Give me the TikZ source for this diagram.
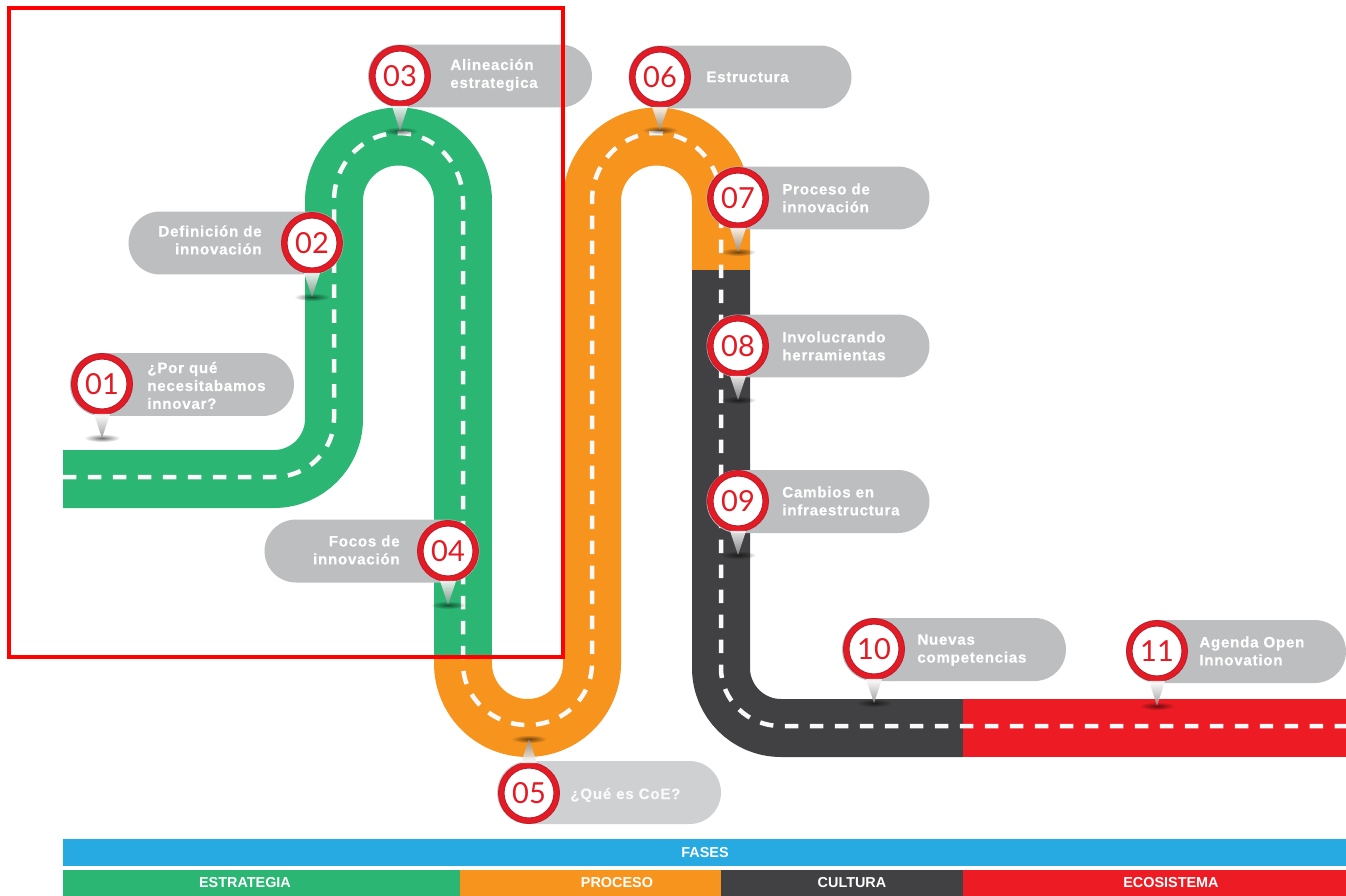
\documentclass[tikz,border=0pt]{standalone}
\usepackage{xcolor}
\usepackage{fontspec}
\setmainfont{Liberation Sans}
\newfontfamily\etiqfont[LetterSpace=5, BoldFeatures={FakeBold=0.5}]{Liberation Sans}
\newfontfamily\numfont{Lato}
\usetikzlibrary{
  arrows.meta,
  positioning,
  fadings,
  calc
}
\definecolor{RoadGreen}{RGB}{43,182,115}
\definecolor{RoadOrange}{RGB}{247,148,30}
\definecolor{RoadDark}{RGB}{65,64,66}
\definecolor{RoadRed}{RGB}{237,28,36}
\definecolor{BarBlue}{RGB}{39,170,225}
\definecolor{PillGray}{RGB}{188,190,192}
\definecolor{PillSoft}{RGB}{207,208,210}
\definecolor{RingRed}{RGB}{226,27,36}
\definecolor{RingDark}{RGB}{190,30,45}
\definecolor{FrameRed}{RGB}{255,0,0}
\tikzfading[name=pinshadow, inner color=transparent!45, outer color=transparent!100]
\pgfdeclareradialshading{hitoshade}{\pgfpoint{0bp}{0bp}}{color(0bp)=(white); color(34bp)=(white); color(50bp)=(black!22)}
\tikzset{
  %%── carretera ─────────────────────────────────────────────
  road/.style = {line width = 1.16cm},
  lane/.style = {line width = 0.09cm, color = white!95!gray, dash pattern = on 0.27cm off 0.23cm},
  %%── etiquetas ─────────────────────────────────────────────
  pill/.style = {
    rectangle, rounded corners = 0.63cm, fill = PillGray,
    minimum height = 1.26cm, inner sep = 0pt, outer sep = 0pt
  },
  pilltxt/.style = {
    inner sep = 0pt, text = white, align = left, anchor = west,
    font = \etiqfont\bfseries\fontsize{8.6}{10.2}\selectfont
  },
  pilltxtr/.style = {pilltxt, align = right, anchor = east},
  %%── hitos ─────────────────────────────────────────────────
  hito/.style = {
    circle, minimum size = 1.11cm, inner sep = 0pt, outer sep = 0.065cm,
    draw = RingDark, double = RingRed, line width = 0.02cm, double distance = 0.09cm,
    shading = hitoshade,
    text = RingRed, font = \numfont\fontsize{16.5}{16.5}\selectfont
  },
  pinta/.style = {top color = white, bottom color = black!45, fill opacity = 0.85},
  pinsh/.style = {fill = black, path fading = pinshadow},
  %%── barra de fases ────────────────────────────────────────
  fase/.style = {text = white, inner sep = 0pt, font = \bfseries\fontsize{8.2}{9}\selectfont},
}
\newcommand{\pindown}[2]{%
  \fill[pinsh] (#2) ellipse (18 and 4);
  \shade[pinta] (#1.255) -- (#2) -- (#1.285) -- cycle;
}
\begin{document}
\begin{tikzpicture}[x=0.02cm, y=-0.02cm]
  \useasboundingbox (0,0) rectangle (1346,896);
  \fill[white] (0,0) rectangle (1346,896);

  %% carretera
  \draw[road, color=RoadGreen] (63,479) -- (274,479)
    arc[start angle=90, end angle=0, radius=60] -- (334,201)
    arc[start angle=180, end angle=360, radius=64.5] -- (463,655);
  \draw[road, color=RoadOrange] (463,655) -- (463,663.5)
    arc[start angle=180, end angle=0, radius=64.5] -- (592,201)
    arc[start angle=180, end angle=360, radius=64.5] -- (721,270);
  \draw[road, color=RoadDark] (721,270) -- (721,668)
    arc[start angle=180, end angle=90, radius=60] -- (963,728);
  \draw[road, color=RoadRed] (963,728) -- (1346,728);
  \draw[lane] (63,477) -- (274,477)
    arc[start angle=90, end angle=0, x radius=60, y radius=58] -- (334,201)
    arc[start angle=180, end angle=360, x radius=64.5, y radius=68] -- (463,663.5)
    arc[start angle=180, end angle=0, x radius=64.5, y radius=61.5] -- (592,201)
    arc[start angle=180, end angle=360, x radius=64.5, y radius=68] -- (721,668)
    arc[start angle=180, end angle=90, x radius=60, y radius=58] -- (1346,726);

  %% etiquetas
  \node[pill, minimum width=4.48cm] (l1) at (182,384.5) {};
  \node[pill, minimum width=4.3cm] (l2) at (236,243) {};
  \node[pill, minimum width=4.48cm] (l3) at (480,76) {};
  \node[pill, minimum width=4.3cm] (l4) at (372,551) {};
  \node[pill, fill=PillSoft, minimum width=4.48cm] (l5) at (609,792.5) {};
  \node[pill, minimum width=4.46cm] (l6) at (740,77) {};
  \node[pill, minimum width=4.46cm] (l7) at (818,198) {};
  \node[pill, minimum width=4.46cm] (l8) at (818,346) {};
  \node[pill, minimum width=4.46cm] (l9) at (818,501.5) {};
  \node[pill, minimum width=4.48cm] (l10) at (954,649.5) {};
  \node[pill, minimum width=4.4cm] (l11) at (1236,651.5) {};

  \node[pilltxt] (t1) at (147,385.5) {¿Por qué\\necesitabamos\\innovar?};
  \node[pilltxtr] (t2) at (262,240) {Definición de\\innovación};
  \node[pilltxt] (t3) at (450,75) {Alineación\\estrategica};
  \node[pilltxtr] (t4) at (400,550) {Focos de\\innovación};
  \node[pilltxt, text=white!90!PillSoft] (t5) at (570,795) {¿Qué es CoE?};
  \node[pilltxt] (t6) at (706,77) {Estructura};
  \node[pilltxt] (t7) at (782,198) {Proceso de\\innovación};
  \node[pilltxt] (t8) at (782,346) {Involucrando\\herramientas};
  \node[pilltxt] (t9) at (782,501) {Cambios en\\infraestructura};
  \node[pilltxt] (t10) at (917,650) {Nuevas\\competencias};
  \node[pilltxt] (t11) at (1199,651) {Agenda Open\\Innovation};

  %% hitos
  \node[hito] (m1) at (102,384) {01};
  \node[hito] (m2) at (312,243) {02};
  \node[hito] (m3) at (400,76) {03};
  \node[hito] (m4) at (448,551) {04};
  \node[hito] (m5) at (529,793) {05};
  \node[hito] (m6) at (660,77) {06};
  \node[hito] (m7) at (738,198) {07};
  \node[hito] (m8) at (738,346) {08};
  \node[hito] (m9) at (738,501) {09};
  \node[hito] (m10) at (874,649) {10};
  \node[hito] (m11) at (1157,651) {11};

  \coordinate (p1) at (102,438);
  \coordinate (p2) at (312,297);
  \coordinate (p3) at (400,131);
  \coordinate (p4) at (448,605);
  \coordinate (p5) at (529,739);
  \coordinate (p6) at (660,130);
  \coordinate (p7) at (738,252);
  \coordinate (p8) at (738,400);
  \coordinate (p9) at (738,555);
  \coordinate (p10) at (874,703);
  \coordinate (p11) at (1157,706);
  \pindown{m1}{p1}
  \pindown{m2}{p2}
  \pindown{m3}{p3}
  \pindown{m4}{p4}
  \fill[pinsh] (p5) ellipse (18 and 4);
  \shade[top color=black!45, bottom color=white, fill opacity=0.85] (m5.105) -- (p5) -- (m5.75) -- cycle;
  \pindown{m6}{p6}
  \pindown{m7}{p7}
  \pindown{m8}{p8}
  \pindown{m9}{p9}
  \pindown{m10}{p10}
  \pindown{m11}{p11}

  %% barra de fases
  \fill[BarBlue] (63,839) rectangle (1346,866);
  \fill[RoadGreen] (63,870) rectangle (460,896);
  \fill[RoadOrange] (460,870) rectangle (721,896);
  \fill[RoadDark] (721,870) rectangle (963,896);
  \fill[RoadRed] (963,870) rectangle (1346,896);
  \node[fase] (f0) at (705,853) {FASES};
  \node[fase] (f1) at (245,883) {ESTRATEGIA};
  \node[fase] (f2) at (617,883) {PROCESO};
  \node[fase] (f3) at (852,883) {CULTURA};
  \node[fase] (f4) at (1171,883) {ECOSISTEMA};

  %% marco
  \draw[color=FrameRed, line width=0.09cm] (9,8) rectangle (563,657);
\end{tikzpicture}
\end{document}
